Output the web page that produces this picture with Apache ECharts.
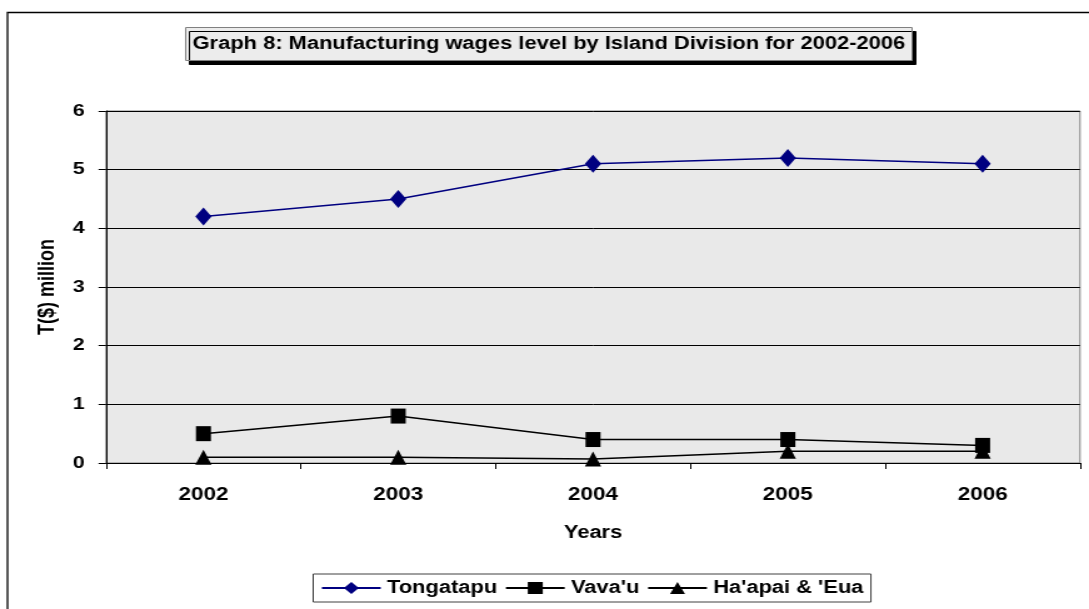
<!DOCTYPE html>
<html>
<head>
<meta charset="utf-8">
<script src="https://cdn.jsdelivr.net/npm/echarts@6/dist/echarts.min.js"></script>
<style>
html,body{margin:0;padding:0;background:#fff;overflow:hidden;}
#wrap{width:1089px;height:609px;overflow:hidden;position:relative;}
#c{width:871px;height:609px;transform:scaleX(1.2503);transform-origin:0 0;}
</style>
</head>
<body>
<div id="wrap"><div id="c"></div></div>
<script>
const years = ['2002', '2003', '2004', '2005', '2006'];
const tongatapu = [4.2, 4.5, 5.1, 5.2, 5.1];
const vavau = [0.5, 0.8, 0.4, 0.4, 0.3];
const haapaiEua = [0.1, 0.1, 0.07, 0.2, 0.2];
const yTicks = [0, 1, 2, 3, 4, 5, 6];

const FONT = '"Liberation Sans", Arial, sans-serif';
const chart = echarts.init(document.getElementById('c'), null, {renderer: 'canvas'});
chart.setOption({
  animation: false,
  backgroundColor: '#ffffff',
  graphic: [{
    type: 'rect', z: -10, silent: true,
    shape: {x: 6, y: 12.5, width: 1200, height: 700},
    style: {fill: 'none', stroke: '#000', lineWidth: 1.3}
  }],
  title: {
    text: 'Graph 8: Manufacturing wages level by Island Division for 2002-2006',
    left: 148, top: 27,
    padding: [8, 6, 8, 6],
    backgroundColor: '#ececec',
    borderColor: '#808080', borderWidth: 1,
    shadowColor: '#000', shadowBlur: 0, shadowOffsetX: 3, shadowOffsetY: 4,
    textStyle: {fontFamily: FONT, fontWeight: 'bold', fontSize: 17.5, color: '#000'}
  },
  legend: {
    bottom: 7, left: 250.5,
    itemWidth: 47, itemHeight: 15, itemGap: 6,
    padding: [5, 6],
    borderColor: '#404040', borderWidth: 1,
    backgroundColor: '#fff',
    textStyle: {fontFamily: FONT, fontWeight: 'bold', fontSize: 17.5, color: '#000'},
    data: ['Tongatapu', "Vava'u", "Ha'apai & 'Eua"]
  },
  grid: {
    left: 84.8, right: 7.2, top: 111, bottom: 146,
    show: true, backgroundColor: '#e9e9e9', borderColor: '#808080', borderWidth: 1
  },
  xAxis: {
    type: 'category', data: years, boundaryGap: true,
    name: 'Years', nameLocation: 'middle', nameGap: 61,
    nameTextStyle: {fontFamily: FONT, fontWeight: 'bold', fontSize: 17.5, color: '#000'},
    axisLine: {lineStyle: {color: '#000', width: 1}},
    axisTick: {show: true, length: 6, lineStyle: {color: '#000'}},
    axisLabel: {fontFamily: FONT, fontWeight: 'bold', fontSize: 18, color: '#000', margin: 23}
  },
  yAxis: {
    type: 'value', min: yTicks[0], max: yTicks[yTicks.length - 1], interval: 1,
    name: 'T($) million', nameLocation: 'middle', nameGap: 38, nameRotate: 90,
    nameTextStyle: {fontFamily: FONT, fontWeight: 'bold', fontSize: 18, color: '#000'},
    axisLine: {show: true, lineStyle: {color: '#000', width: 1}},
    axisTick: {show: true, length: 6, lineStyle: {color: '#000'}},
    axisLabel: {fontFamily: FONT, fontWeight: 'bold', fontSize: 17, color: '#000', margin: 17},
    splitLine: {show: true, lineStyle: {color: '#000', width: 1}}
  },
  series: [
    {name: 'Tongatapu', type: 'line', data: tongatapu, symbol: 'diamond', symbolSize: [13, 18],
     itemStyle: {color: '#000080'}, lineStyle: {color: '#000080', width: 1.5}},
    {name: "Vava'u", type: 'line', data: vavau, symbol: 'rect', symbolSize: [12, 15],
     itemStyle: {color: '#000'}, lineStyle: {color: '#000', width: 1.5}},
    {name: "Ha'apai & 'Eua", type: 'line', data: haapaiEua, symbol: 'triangle', symbolSize: [13, 15],
     itemStyle: {color: '#000'}, lineStyle: {color: '#000', width: 1.5}}
  ]
});
</script>
</body>
</html>
